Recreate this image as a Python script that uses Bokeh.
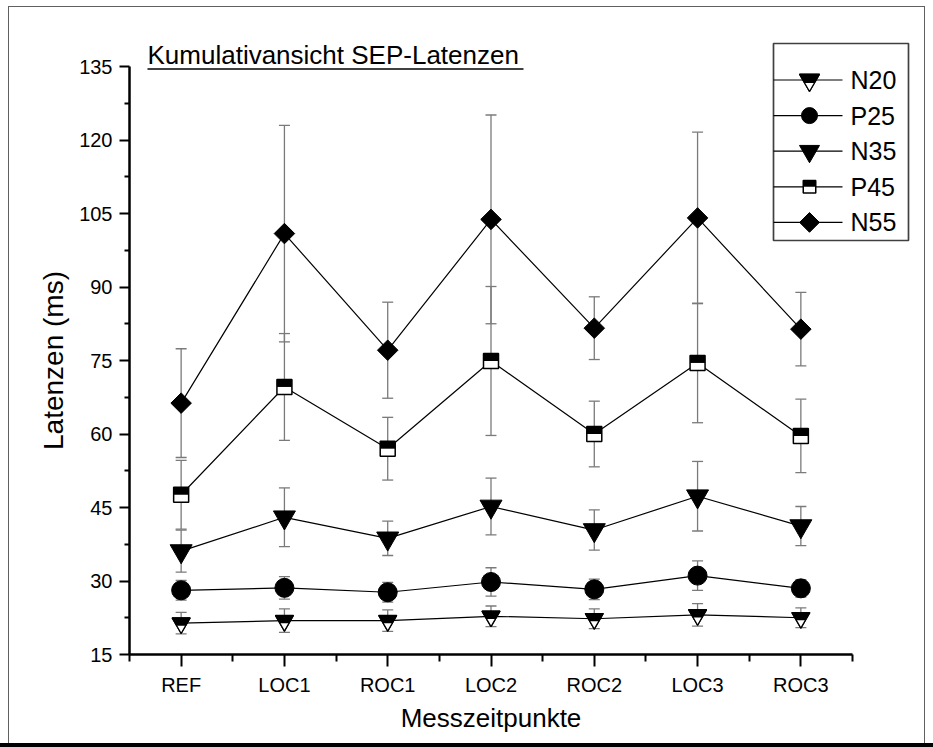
import numpy as np
from bokeh.plotting import figure
from bokeh.models import (Range1d, FixedTicker, Whisker, TeeHead, ColumnDataSource,
                          Title, InlineStyleSheet)
from bokeh.core.properties import value
from bokeh.embed import file_html
from bokeh.resources import INLINE

# ---------------- data ----------------
categories = ["REF", "LOC1", "ROC1", "LOC2", "ROC2", "LOC3", "ROC3"]
series_names = ["N20", "P25", "N35", "P45", "N55"]

n20 = [21.4, 21.9, 21.9, 22.8, 22.3, 23.1, 22.5]
n20_err = [2.2, 2.4, 2.2, 2.1, 2.0, 2.3, 2.0]
p25 = [28.1, 28.6, 27.7, 29.8, 28.3, 31.1, 28.5]
p25_err = [2.0, 2.3, 2.0, 2.9, 2.1, 3.0, 1.8]
n35 = [36.1, 43.0, 38.7, 45.2, 40.4, 47.3, 41.2]
n35_err = [4.3, 6.0, 3.5, 5.8, 4.1, 7.1, 4.0]
p45 = [47.6, 69.6, 57.0, 74.9, 60.0, 74.5, 59.6]
p45_err = [7.0, 10.9, 6.4, 15.2, 6.7, 12.2, 7.5]
n55 = [66.3, 100.9, 77.1, 103.8, 81.6, 104.1, 81.4]
n55_err = [11.1, 22.1, 9.8, 21.3, 6.4, 17.5, 7.5]

y_ticks = [15, 30, 45, 60, 75, 90, 105, 120, 135]

title_text = "Kumulativansicht SEP-Latenzen"
x_title = "Messzeitpunkte"
y_title = "Latenzen (ms)"

# ---------------- layout constants (canvas pixels) ----------------
W, H = 933, 747
LEFT, RIGHT, TOP, BOTTOM = 129, 925, 8, 654
X_AX_END = 852
Y_AX_TOP = 66
FONT = "Liberation Sans"
ERR = "#7a7a7a"
XTITLE_PX = 26
YTITLE_PX = 28

xs = [i + 1 for i in range(len(categories))]
x0, x1 = 0.5, len(categories) + 0.5
px_x = (X_AX_END - LEFT) / (x1 - x0)
y0, y1 = y_ticks[0], y_ticks[-1]
px_y = (BOTTOM - Y_AX_TOP) / (y1 - y0)

p = figure(width=W, height=H, output_backend="svg", toolbar_location=None,
           x_range=Range1d(x0, x0 + (RIGHT - LEFT) / px_x),
           y_range=Range1d(y0, y0 + (BOTTOM - TOP) / px_y),
           min_border_left=LEFT, min_border_right=W - RIGHT,
           min_border_top=TOP, min_border_bottom=H - BOTTOM)
p.extra_x_ranges = {"px": Range1d(LEFT, RIGHT)}
p.extra_y_ranges = {"px": Range1d(BOTTOM, TOP)}
p.grid.visible = False
p.outline_line_color = None
p.background_fill_color = "white"
p.border_fill_color = "white"

for ax in (p.xaxis[0], p.yaxis[0]):
    ax.axis_line_width = 2.5
    ax.axis_line_color = "black"
    ax.major_tick_line_width = 2
    ax.minor_tick_line_width = 2
    ax.major_tick_line_color = "black"
    ax.minor_tick_line_color = "black"
    ax.major_tick_in = 0
    ax.minor_tick_in = 0
    ax.major_label_text_font = FONT
    ax.major_label_text_font_size = "20px"
    ax.major_label_text_color = "black"
    ax.major_label_standoff = 7

p.xaxis.bounds = (x0, x1)
p.xaxis.ticker = FixedTicker(ticks=xs, minor_ticks=[i + 0.5 for i in range(len(categories) + 1)])
p.xaxis.major_label_overrides = {x: c for x, c in zip(xs, categories)}
p.xaxis.major_tick_out = 12
p.xaxis.minor_tick_out = 7

p.yaxis.bounds = (y0, y1)
p.yaxis.ticker = FixedTicker(ticks=y_ticks, minor_ticks=[t + 7.5 for t in y_ticks[:-1]])
p.yaxis.major_tick_out = 10
p.yaxis.minor_tick_out = 5

series = [(n20, n20_err), (p25, p25_err), (n35, n35_err), (p45, p45_err), (n55, n55_err)]
sources = []
for vals, errs in series:
    src = ColumnDataSource(dict(x=xs, y=vals,
                                upper=[v + e for v, e in zip(vals, errs)],
                                lower=[v - e for v, e in zip(vals, errs)]))
    sources.append(src)
    p.add_layout(Whisker(source=src, base="x", upper="upper", lower="lower",
                         line_color=ERR, line_width=1.3,
                         upper_head=TeeHead(size=11, line_color=ERR, line_width=1.3),
                         lower_head=TeeHead(size=11, line_color=ERR, line_width=1.3)))
for src in sources:
    p.line("x", "y", source=src, line_color="black", line_width=1.2)


def half_triangle(xv, yv, size, down_px, **kw):
    """inverted triangle, top half black, bottom half white"""
    h = size * np.sqrt(3) / 2
    p.scatter(xv, yv, marker="inverted_triangle", size=size, fill_color="black",
              line_color="black", line_width=1.2, **kw)
    p.scatter(xv, [v + down_px(h / 3) for v in yv], marker="inverted_triangle",
              size=size / 2, fill_color="white", line_color=None, **kw)
    p.scatter(xv, yv, marker="inverted_triangle", size=size, fill_color=None,
              line_color="black", line_width=1.3, **kw)


def half_square(xv, yv, size, down_px, **kw):
    """square, top half black, bottom half white"""
    p.scatter(xv, yv, marker="square", size=size, fill_color="white",
              line_color="black", line_width=1.5, **kw)
    p.rect(xv, [v + down_px(-size / 4) for v in yv], width=size, height=size / 2,
           width_units="screen", height_units="screen", fill_color="black",
           line_color=None, **kw)


data_down = lambda d: -d / px_y      # pixels downward -> data units
px_down = lambda d: d                # pixel range: y grows downward

# data markers
half_triangle(xs, n20, 18, data_down)
p.scatter(xs, p25, marker="circle", size=19, fill_color="black", line_color="black")
p.scatter(xs, n35, marker="inverted_triangle", size=22, fill_color="black", line_color="black")
half_square(xs, p45, 15, data_down)
p.scatter(xs, n55, marker="square", angle=np.pi / 4, size=14.5, fill_color="black",
          line_color="black")

# ---------------- title (underlined) ----------------
PX = dict(x_range_name="px", y_range_name="px")
p.text(x=[147], y=[54.5], text=[title_text], text_font=value(FONT), text_font_size="26px",
       text_baseline="middle", text_align="left", text_color="black", **PX)
p.segment(x0=[147], y0=[68.5], x1=[523], y1=[68.5], line_color="black", line_width=1.7, **PX)

# ---------------- legend ----------------
LX0, LX1, LY0, LY1 = 773, 908, 43, 240
p.quad(left=[LX0], right=[LX1], top=[LY0], bottom=[LY1], fill_color="white",
       line_color="#404040", line_width=1.7, **PX)
ly = [79.5 + 35.6 * i for i in range(len(series_names))]
mx = 809
p.segment(x0=[LX0] * 5, y0=ly, x1=[842] * 5, y1=ly, line_color="black", line_width=1.2, **PX)
half_triangle([mx], [ly[0]], 20, px_down, **PX)
p.scatter([mx], [ly[1]], marker="circle", size=16, fill_color="black", line_color="black", **PX)
p.scatter([mx], [ly[2]], marker="inverted_triangle", size=20, fill_color="black", line_color="black", **PX)
half_square([mx], [ly[3]], 12.5, px_down, **PX)
p.scatter([mx], [ly[4]], marker="square", angle=np.pi / 4, size=14, fill_color="black",
          line_color="black", **PX)
p.text(x=[850] * 5, y=ly, text=series_names, text_font=value(FONT), text_font_size="25px",
       text_baseline="middle", text_align="left", text_color="black", **PX)

# ---------------- axis titles (side panels, positioned along the axes) ----------------
# Arial/Liberation advance widths (em) -> text length, so the titles centre on the axes
ytitle_len = 6.391 * YTITLE_PX
xtitle_len = 6.947 * XTITLE_PX
y_center = (BOTTOM + Y_AX_TOP) / 2
x_center = (LEFT + X_AX_END) / 2
p.add_layout(Title(text=y_title, align="left", offset=(BOTTOM - y_center) - ytitle_len / 2,
                   text_font=FONT, text_font_size=f"{YTITLE_PX}px",
                   text_font_style="normal", text_color="black", standoff=16), "left")
p.add_layout(Title(text=x_title, align="left", offset=(x_center - LEFT) - xtitle_len / 2,
                   text_font=FONT, text_font_size=f"{XTITLE_PX}px",
                   text_font_style="normal", text_color="black", standoff=4), "below")

# ---------------- outer frame of the picture ----------------
p.stylesheets = [InlineStyleSheet(css="""
:host { position: relative; }
:host::after { content: ""; position: absolute; left: 8px; top: 6px; width: 917px; height: 739px;
  border: 1.5px solid #606060; box-sizing: border-box; pointer-events: none; z-index: 5; }
:host::before { content: ""; position: absolute; left: 0px; top: 743px; width: 933px; height: 4px;
  background: black; pointer-events: none; z-index: 6; }
""")]

open("out.html", "w").write(file_html(p, INLINE))
